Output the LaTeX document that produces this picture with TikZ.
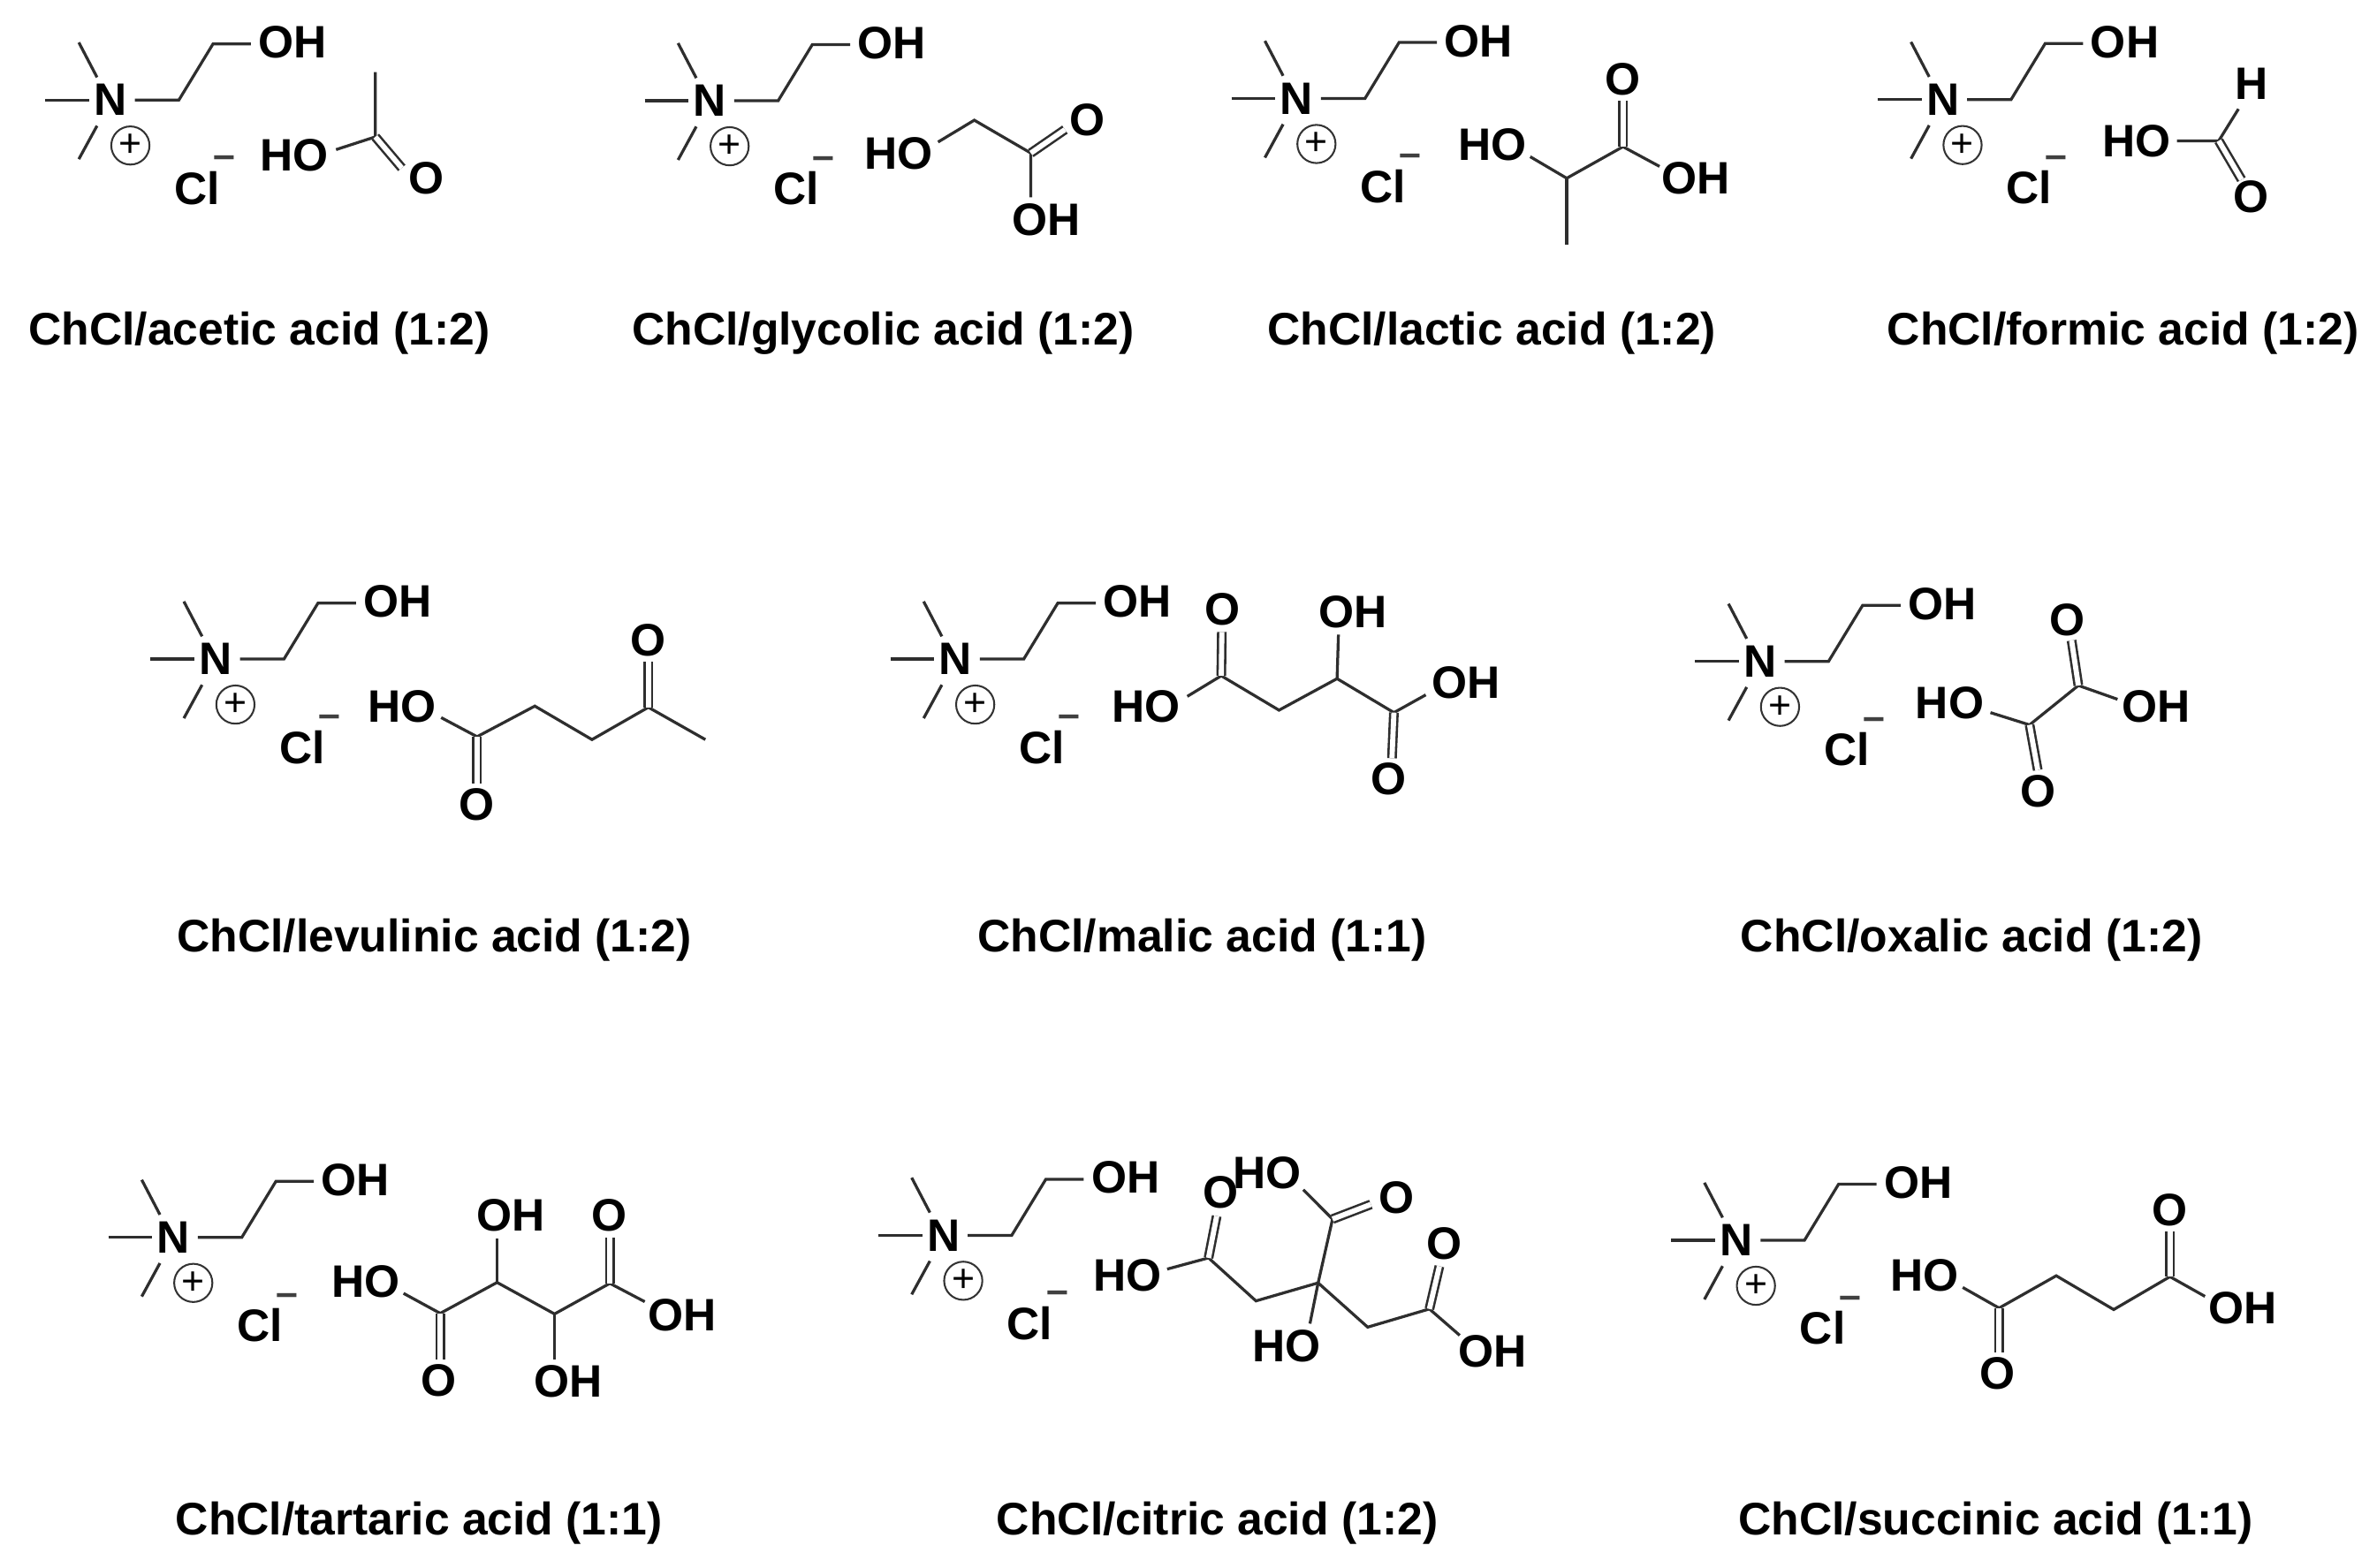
\documentclass[tikz,border=0pt]{standalone}
\usepackage{fontspec}
\setmainfont{Liberation Sans}
\tikzset{
  bond/.style={draw=black!82,line width=.95pt,line cap=butt,line join=miter},
  dblbond/.style={draw=black!82,line width=.75pt,double=white,double distance=1.7pt,line cap=butt},
  atom/.style={inner sep=0pt,outer sep=0pt,font=\fontsize{15}{15}\selectfont\bfseries,text=black},
  caption/.style={inner sep=0pt,anchor=base,font=\fontsize{15.05}{15}\selectfont\bfseries,text=black},
  charge/.style={circle,draw=black!80,line width=.6pt,inner sep=0pt,minimum size=12.6pt,font=\fontsize{13}{13}\selectfont},
  minusmark/.style={inner sep=0pt,outer sep=0pt,font=\fontsize{13}{13}\selectfont\bfseries,text=black!75},
  choline/.pic={
    \node[atom] (N) at (0,0) {N};
    \coordinate (mt1) at (-21,-38); \coordinate (mt2) at (-9,-15);
    \coordinate (ml1) at (-43,0);   \coordinate (ml2) at (-14,0);
    \coordinate (mb1) at (-21,39);  \coordinate (mb2) at (-9,17);
    \coordinate (c0) at (16,0); \coordinate (c1) at (45,0);
    \coordinate (c2) at (67.5,-37); \coordinate (c3) at (92.5,-37);
    \node[atom] (OH) at (120,-38) {OH};
    \node[charge] (plus) at (13,30) {+};
    \node[atom] (Cl) at (57,58) {Cl};
    \node[minusmark] (minus) at (75,41) {–};
    \draw[bond] (mt1) -- (mt2);
    \draw[bond] (ml1) -- (ml2);
    \draw[bond] (mb1) -- (mb2);
    \draw[bond] (c0) -- (c1) -- (c2) -- (c3);
  }
}
\begin{document}
\begin{tikzpicture}[x=.5pt,y=-.5pt]
\useasboundingbox (0,0) rectangle (1568,1034.6);

% choline chloride units
\pic (m1) at (73,66) {choline};
\pic (m2) at (468.3,66.5) {choline};
\pic (m3) at (855.4,65) {choline};
\pic (m4) at (1281.6,65.7) {choline};
\pic (m5) at (142.3,434.9) {choline};
\pic (m6) at (630.3,434.9) {choline};
\pic (m7) at (1161.2,436.4) {choline};
\pic (m8) at (114.5,816.5) {choline};
\pic (m9) at (622.4,815.1) {choline};
\pic (m10) at (1145.3,818.4) {choline};

% acetic acid
\node[atom] (aHO) at (194.3,102.6) {HO};
\node[atom] (aO) at (281.5,117.6) {O};
\coordinate (aE) at (221.7,98.7); \coordinate (aC) at (247.6,90.3);
\coordinate (aMe) at (247.6,47.6); \coordinate (aD) at (265,110.8);
\draw[bond] (aE) -- (aC) -- (aMe);
\draw[dblbond] (aC) -- (aD);

% glycolic acid
\node[atom] (gHO) at (592.9,101) {HO};
\node[atom] (gO) at (717.4,79.3) {O};
\node[atom] (gOH) at (690,144.8) {OH};
\coordinate (gE) at (618.8,93.7); \coordinate (gA) at (642.7,79.3);
\coordinate (gC) at (680,101); \coordinate (gD) at (702.5,85.5);
\coordinate (gF) at (680,130.2);
\draw[bond] (gE) -- (gA) -- (gC) -- (gF);
\draw[dblbond] (gC) -- (gD);

% lactic acid
\node[atom] (lHO) at (984.3,95.2) {HO};
\node[atom] (lOH) at (1118.8,117.6) {OH};
\node[atom] (lO) at (1070.6,52.5) {O};
\coordinate (lE) at (1009.4,103.4); \coordinate (lA) at (1033.5,117.6);
\coordinate (lMe) at (1033.5,161.7); \coordinate (lC) at (1070.6,96.8);
\coordinate (lF) at (1094.7,109.8); \coordinate (lD) at (1070.6,66.5);
\draw[bond] (lE) -- (lA) -- (lC) -- (lF);
\draw[bond] (lA) -- (lMe);
\draw[dblbond] (lC) -- (lD);

% formic acid
\node[atom] (fHO) at (1409.3,92.9) {HO};
\node[atom] (fH) at (1485.1,55.4) {H};
\node[atom] (fO) at (1485.1,129.8) {O};
\coordinate (fE) at (1436,92.9); \coordinate (fC) at (1463.6,92.9);
\coordinate (fF) at (1476.6,71.9); \coordinate (fD) at (1478.6,118.5);
\draw[bond] (fE) -- (fC) -- (fF);
\draw[dblbond] (fC) -- (fD);

% levulinic acid
\node[atom] (vHO) at (265.4,465.9) {HO};
\node[atom] (vO1) at (314.7,530.8) {O};
\node[atom] (vO2) at (427.7,422.6) {O};
\coordinate (vE) at (291,473.5); \coordinate (v1) at (314.7,486.1);
\coordinate (vD1) at (314.7,516.8); \coordinate (v2) at (352.8,465.9);
\coordinate (v3) at (390.5,488); \coordinate (v4) at (427.7,466.7);
\coordinate (vD2) at (427.7,436.8); \coordinate (v5) at (465.3,488);
\draw[bond] (vE) -- (v1) -- (v2) -- (v3) -- (v4) -- (v5);
\draw[dblbond] (v1) -- (vD1);
\draw[dblbond] (v4) -- (vD2);

% malic acid
\node[atom] (kHO) at (755.8,465.9) {HO};
\node[atom] (kO1) at (806.6,402.2) {O};
\node[atom] (kOHa) at (892.7,404.1) {OH};
\node[atom] (kOHb) at (967.2,450.4) {OH};
\node[atom] (kO2) at (915.9,513.9) {O};
\coordinate (kE) at (783.2,459.5); \coordinate (k1) at (805.6,445.9);
\coordinate (kD1) at (806,417); \coordinate (k2) at (843.7,468.6);
\coordinate (k3) at (882,447.8); \coordinate (kF) at (882.9,418.7);
\coordinate (k4) at (919.5,470.2); \coordinate (kG) at (940.5,458.5);
\coordinate (kD2) at (918.2,500.3);
\draw[bond] (kE) -- (k1) -- (k2) -- (k3) -- (k4) -- (kG);
\draw[bond] (k3) -- (kF);
\draw[dblbond] (k1) -- (kD1);
\draw[dblbond] (k4) -- (kD2);

% oxalic acid
\node[atom] (xHO) at (1286.2,464) {HO};
\node[atom] (xOH) at (1422.2,466.3) {OH};
\node[atom] (xO1) at (1344.2,522.2) {O};
\node[atom] (xO2) at (1363.4,409) {O};
\coordinate (xE) at (1313,470.2); \coordinate (x1) at (1338.8,478.3);
\coordinate (x2) at (1371,452.3); \coordinate (xF) at (1396.8,461.4);
\coordinate (xD1) at (1344.2,508.1); \coordinate (xD2) at (1366.5,422.6);
\draw[bond] (xE) -- (x1) -- (x2) -- (xF);
\draw[dblbond] (x1) -- (xD1);
\draw[dblbond] (x2) -- (xD2);

% tartaric acid
\node[atom] (tHO) at (241.3,845.8) {HO};
\node[atom] (tO1) at (289.3,910.9) {O};
\node[atom] (tOHa) at (336.9,802.1) {OH};
\node[atom] (tOHb) at (375.1,911.3) {OH};
\node[atom] (tO2) at (401.9,802.1) {O};
\node[atom] (tOHc) at (450.2,867.6) {OH};
\coordinate (tE) at (266.2,853.4); \coordinate (t1) at (290.4,866.6);
\coordinate (tD1) at (290.4,896.8); \coordinate (t2) at (327.9,846.2);
\coordinate (tF) at (327.9,817.1); \coordinate (t3) at (365.8,867);
\coordinate (tG) at (365.8,896.8); \coordinate (t4) at (402.3,846.8);
\coordinate (tD2) at (402.3,816.5); \coordinate (tH) at (425.3,858.9);
\draw[bond] (tE) -- (t1) -- (t2) -- (t3) -- (t4) -- (tH);
\draw[bond] (t2) -- (tF);
\draw[bond] (t3) -- (tG);
\draw[dblbond] (t1) -- (tD1);
\draw[dblbond] (t4) -- (tD2);

% citric acid
\node[atom] (cHOa) at (743.7,841.7) {HO};
\node[atom] (cO1) at (805.3,786.5) {O};
\node[atom] (cHOb) at (835.9,773.7) {HO};
\node[atom] (cO2) at (921.2,790.4) {O};
\node[atom] (cHOc) at (848.7,888) {HO};
\node[atom] (cO3) at (952.5,820.3) {O};
\node[atom] (cOH) at (984.6,891.8) {OH};
\coordinate (cE) at (769.9,837.4); \coordinate (c1) at (797.2,830);
\coordinate (cD1) at (802.6,802.4); \coordinate (cA) at (828.5,858.4);
\coordinate (cQ) at (869.5,846.5); \coordinate (cC) at (879,804.4);
\coordinate (cF) at (859.7,785); \coordinate (cD2) at (904.3,794.7);
\coordinate (cG) at (864.1,873.4); \coordinate (cB) at (902.2,875.7);
\coordinate (c3) at (942.9,863.7); \coordinate (cD3) at (949.5,835.5);
\coordinate (cH) at (962.9,881.1);
\draw[bond] (cE) -- (c1) -- (cA) -- (cQ) -- (cB) -- (c3) -- (cH);
\draw[bond] (cQ) -- (cC) -- (cF);
\draw[bond] (cQ) -- (cG);
\draw[dblbond] (c1) -- (cD1);
\draw[dblbond] (cC) -- (cD2);
\draw[dblbond] (c3) -- (cD3);

% succinic acid
\node[atom] (sHO) at (1269.4,841.8) {HO};
\node[atom] (sO1) at (1317.8,906.5) {O};
\node[atom] (sO2) at (1431.4,798.2) {O};
\node[atom] (sOH) at (1479.2,863.1) {OH};
\coordinate (sE) at (1294.7,849.5); \coordinate (s1) at (1318.7,863.1);
\coordinate (sD1) at (1318.7,892.3); \coordinate (s2) at (1356.4,841.8);
\coordinate (s3) at (1394.3,864.1); \coordinate (s4) at (1431.4,842.4);
\coordinate (sD2) at (1431.4,812.6); \coordinate (sF) at (1454.5,855.4);
\draw[bond] (sE) -- (s1) -- (s2) -- (s3) -- (s4) -- (sF);
\draw[dblbond] (s1) -- (sD1);
\draw[dblbond] (s4) -- (sD2);

% captions
\node[caption] (cap1) at (171,227.4) {ChCl/acetic acid (1:2)};
\node[caption] (cap2) at (582.5,227.4) {ChCl/glycolic acid (1:2)};
\node[caption] (cap3) at (984,227.4) {ChCl/lactic acid (1:2)};
\node[caption] (cap4) at (1400.5,227.4) {ChCl/formic acid (1:2)};
\node[caption] (cap5) at (286.5,628) {ChCl/levulinic acid (1:2)};
\node[caption] (cap6) at (793,628) {ChCl/malic acid (1:1)};
\node[caption] (cap7) at (1300.5,628) {ChCl/oxalic acid (1:2)};
\node[caption] (cap8) at (276.5,1013) {ChCl/tartaric acid (1:1)};
\node[caption] (cap9) at (803,1013) {ChCl/citric acid (1:2)};
\node[caption] (cap10) at (1316.5,1013) {ChCl/succinic acid (1:1)};
\end{tikzpicture}
\end{document}
